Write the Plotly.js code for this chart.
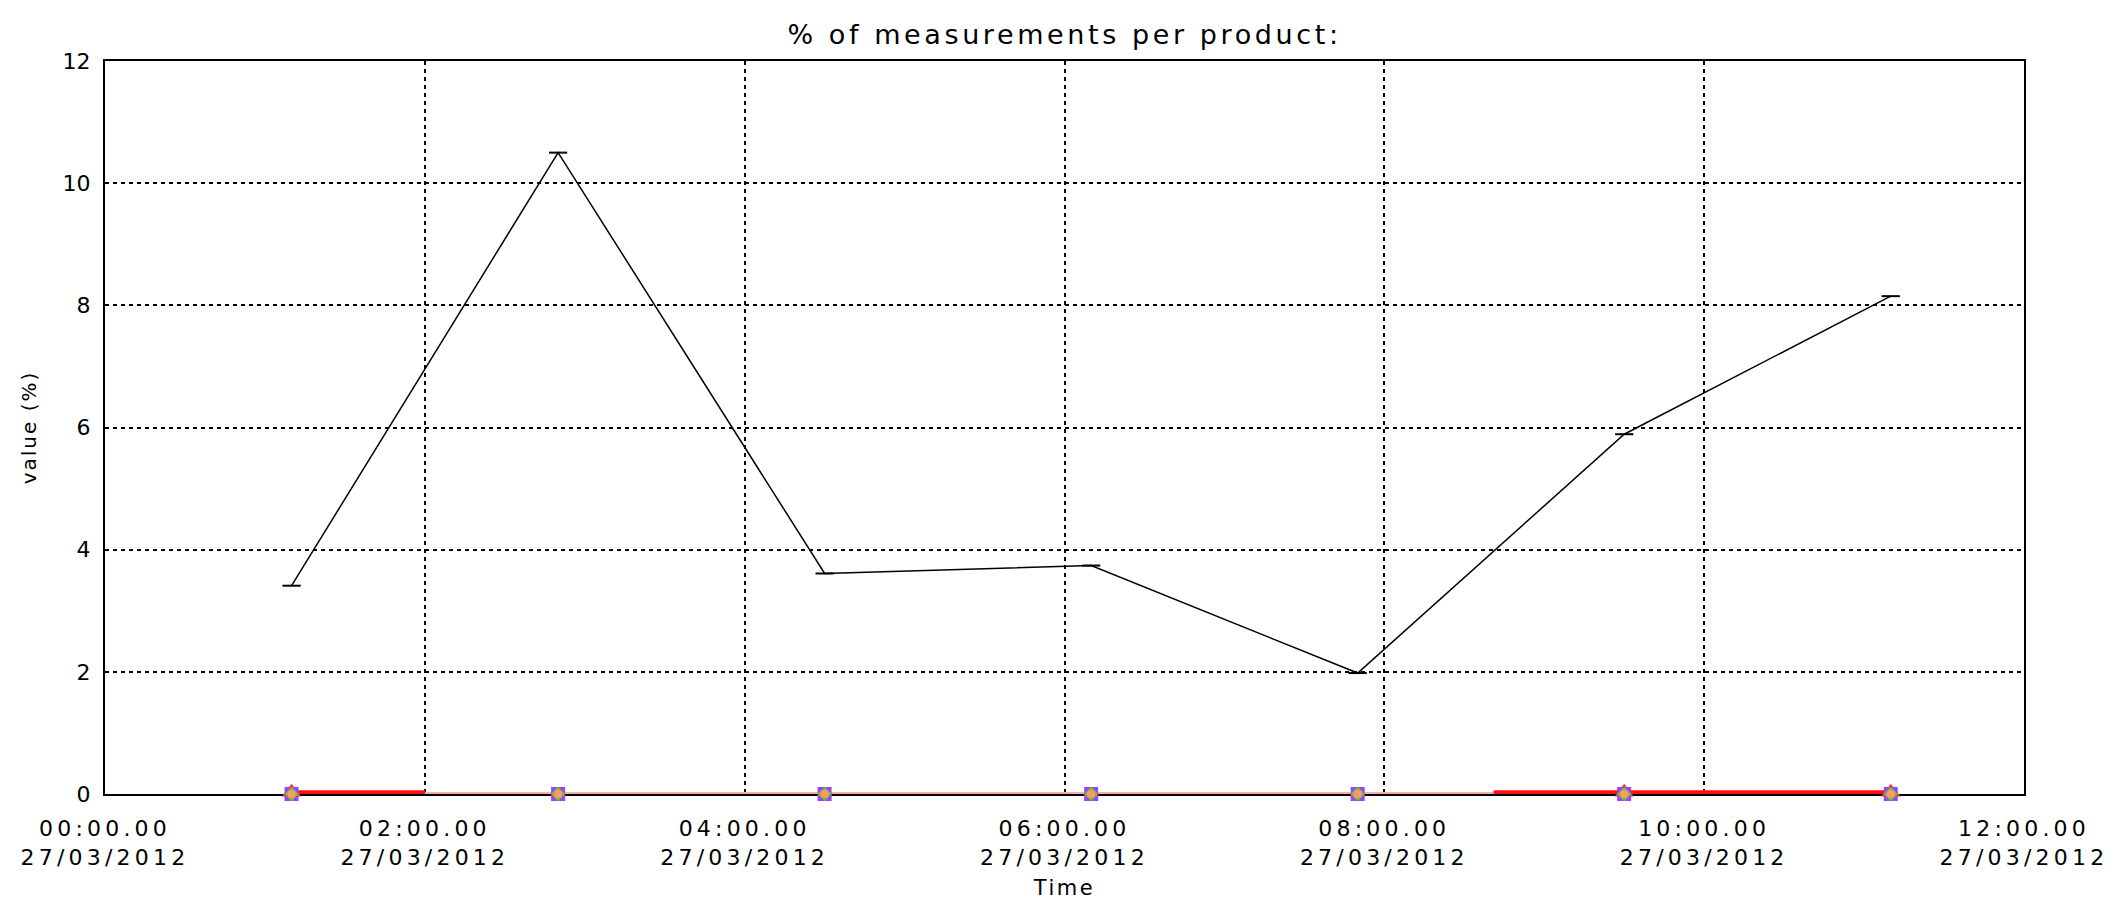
<!DOCTYPE html>
<html>
<head>
<meta charset="utf-8">
<script src="https://cdn.plot.ly/plotly-3.0.1.min.js"></script>
<style>
  body { margin: 0; background: #fff; }
  #chart { width: 2120px; height: 902px; }
  .gtitle { letter-spacing: 3.6px; }
  .xtick text { letter-spacing: 4.2px; }
  .g-xtitle text { letter-spacing: 2.5px; }
  .g-ytitle text { letter-spacing: 2px; }
</style>
</head>
<body>
<div id="chart"></div>
<script>
// Measurement times and total % per product
const times = ['2012-03-27 01:10', '2012-03-27 02:50', '2012-03-27 04:30', '2012-03-27 06:10',
               '2012-03-27 07:50', '2012-03-27 09:30', '2012-03-27 11:10'];
const totalValues = [3.41, 10.5, 3.61, 3.74, 1.98, 5.89, 8.15];

// Products near zero
const purpleValues = [0, 0, 0, 0, 0, 0, 0];
const greenValues  = [0, 0, 0, 0, 0, 0, 0];
const orangeValues = [0, 0, 0, 0, 0, 0, 0];

const redTimes  = ['2012-03-27 01:10', '2012-03-27 02:00', null, '2012-03-27 08:41', '2012-03-27 09:30', '2012-03-27 11:10'];
const redValues = [0.03, 0.03, null, 0.03, 0.03, 0.03];
const redMarkerTimes = ['2012-03-27 01:10', '2012-03-27 09:30', '2012-03-27 11:10'];
const redMarkerValues = [0.03, 0.03, 0.03];

const pinkTimes  = ['2012-03-27 02:00', '2012-03-27 08:41'];
const pinkValues = [0, 0];

// Axis ticks
const xTickVals = ['2012-03-27 00:00', '2012-03-27 02:00', '2012-03-27 04:00', '2012-03-27 06:00',
                   '2012-03-27 08:00', '2012-03-27 10:00', '2012-03-27 12:00'];
const xTickText = ['00:00.00<br>27/03/2012', '02:00.00<br>27/03/2012', '04:00.00<br>27/03/2012',
                   '06:00.00<br>27/03/2012', '08:00.00<br>27/03/2012', '10:00.00<br>27/03/2012',
                   '12:00.00<br>27/03/2012'];
const yTickVals = [0, 2, 4, 6, 8, 10, 12];

const FONT = 'DejaVu Sans, sans-serif';

const traces = [
  { x: pinkTimes, y: pinkValues, mode: 'lines', line: {color: '#ffacac', width: 4}, cliponaxis: false },
  { x: redTimes, y: redValues, mode: 'lines', line: {color: '#ff1010', width: 4}, cliponaxis: false, connectgaps: false },
  { x: redMarkerTimes, y: redMarkerValues, mode: 'markers', marker: {symbol: 'triangle-up', size: 17, color: '#ff3030'}, cliponaxis: false },
  { x: times, y: purpleValues, mode: 'markers', marker: {symbol: 'square', size: 14, color: '#a040ff'}, cliponaxis: false },
  { x: times, y: greenValues, mode: 'markers', marker: {symbol: 'diamond', size: 11, color: '#70c030'}, cliponaxis: false },
  { x: times, y: orangeValues, mode: 'markers', marker: {symbol: 'circle', size: 8, color: '#ff9966'}, cliponaxis: false },
  { x: times, y: totalValues, mode: 'lines+markers', line: {color: '#000', width: 1.5},
    marker: {symbol: 'line-ew', size: 13, line: {color: '#000', width: 2}}, cliponaxis: false }
];

const layout = {
  width: 2120, height: 902,
  paper_bgcolor: '#fff', plot_bgcolor: '#fff',
  showlegend: false,
  margin: {l: 105, r: 96, t: 61, b: 108},
  font: {family: FONT, color: '#000', size: 22},
  title: {text: '% of measurements per product:', font: {family: FONT, size: 27, color: '#000'},
          x: 0.5, xref: 'paper', xanchor: 'center', y: 0.962, yanchor: 'middle'},
  xaxis: {
    type: 'date',
    range: ['2012-03-27 00:00', '2012-03-27 12:00'],
    tickmode: 'array', tickvals: xTickVals, ticktext: xTickText,
    tickfont: {family: FONT, size: 22, color: '#000'},
    ticklabelstandoff: 14,
    showgrid: true, gridcolor: '#000', gridwidth: 2, griddash: '4px,4px',
    showline: true, linecolor: '#000', linewidth: 2, mirror: true,
    layer: 'below traces',
    ticks: '', zeroline: false,
    title: {text: 'Time', font: {family: FONT, size: 21, color: '#000'}, standoff: 11}
  },
  yaxis: {
    range: [0, 12],
    tickmode: 'array', tickvals: yTickVals,
    tickfont: {family: FONT, size: 22, color: '#000'},
    ticklabelstandoff: 8,
    showgrid: true, gridcolor: '#000', gridwidth: 2, griddash: '4px,4px',
    showline: true, linecolor: '#000', linewidth: 2, mirror: true,
    layer: 'below traces',
    ticks: '', zeroline: false,
    title: {text: 'value (%)', font: {family: FONT, size: 20, color: '#000'}, standoff: 21}
  }
};

Plotly.newPlot('chart', traces, layout, {displayModeBar: false, staticPlot: true});
</script>
</body>
</html>
